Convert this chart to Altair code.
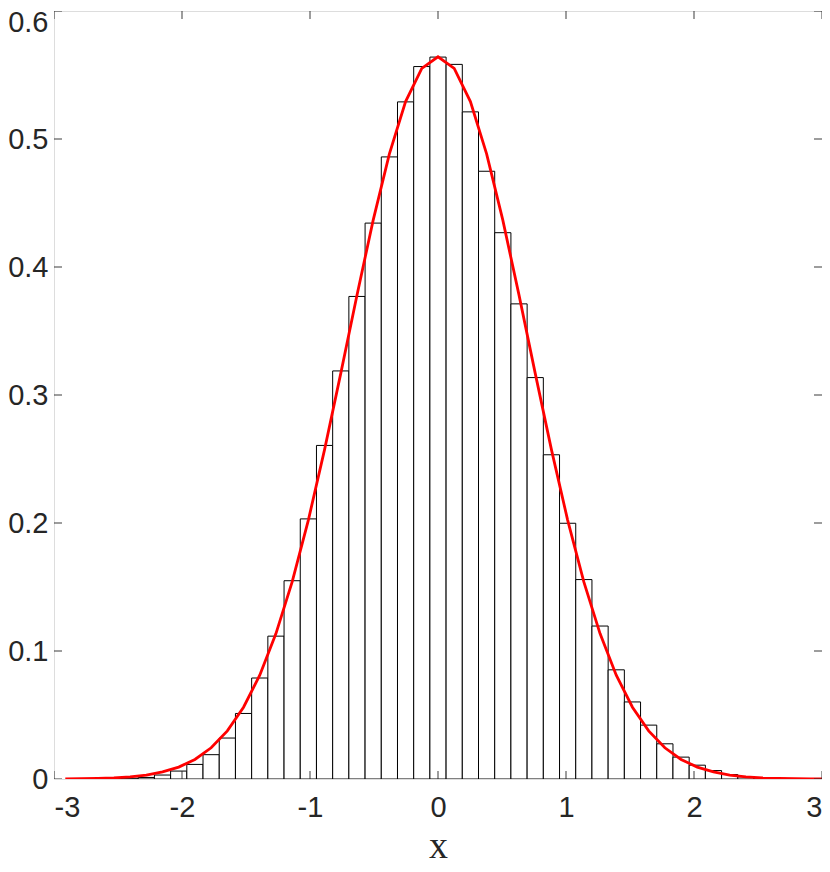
import altair as alt
import pandas as pd

# histogram bin index (bin centres = index * bin_width), normalised heights (pdf)
bin_width = 0.1266
bin_index = list(range(-22, 24))
bar_heights = [
    0.0001, 0.0002, 0.0003, 0.0006, 0.0012, 0.0031, 0.0062, 0.0114, 0.0190, 0.0320,
    0.0512, 0.0789, 0.1116, 0.1549, 0.2032, 0.2606, 0.3188, 0.3770, 0.4343, 0.4860,
    0.5290, 0.5566, 0.5640, 0.5583, 0.5212, 0.4748, 0.4268, 0.3712, 0.3136, 0.2533,
    0.1998, 0.1558, 0.1195, 0.0853, 0.0602, 0.0421, 0.0275, 0.0171, 0.0108, 0.0066,
    0.0035, 0.0017, 0.0009, 0.0005, 0.0003, 0.0001,
]

# fitted curve, sampled at bin centres
curve_index = list(range(-23, 25))
curve_values = [
    0.0001, 0.0002, 0.0005, 0.0009, 0.0017, 0.0031, 0.0055, 0.0093, 0.0153, 0.0244,
    0.0376, 0.0561, 0.0811, 0.1136, 0.1540, 0.2023, 0.2573, 0.3169, 0.3780, 0.4366,
    0.4884, 0.5292, 0.5552, 0.5642, 0.5552, 0.5292, 0.4884, 0.4366, 0.3780, 0.3169,
    0.2573, 0.2023, 0.1540, 0.1136, 0.0811, 0.0561, 0.0376, 0.0244, 0.0153, 0.0093,
    0.0055, 0.0031, 0.0017, 0.0009, 0.0005, 0.0002, 0.0001, 0.0000,
]

x_ticks = [-3, -2, -1, 0, 1, 2, 3]
y_ticks = [0, 0.1, 0.2, 0.3, 0.4, 0.5, 0.6]

bars = pd.DataFrame({
    "x0": [i * bin_width - bin_width / 2 for i in bin_index],
    "x1": [i * bin_width + bin_width / 2 for i in bin_index],
    "h": bar_heights,
})
curve = pd.DataFrame({"x": [i * bin_width for i in curve_index], "y": curve_values})
xt = pd.DataFrame({"t": x_ticks})
yt = pd.DataFrame({"t": y_ticks})

AX = "#262626"
xscale = alt.Scale(domain=[-3, 3], nice=False, zero=False)
yscale = alt.Scale(domain=[0, 0.6], nice=False)

xaxis = alt.Axis(values=x_ticks, labelExpr="datum.value + ''", domain=False, ticks=False,
                 grid=False, labelFontSize=29, labelFont="Liberation Sans", labelColor=AX,
                 labelPadding=14, title="x", titleFont="Liberation Serif", titleFontSize=38,
                 titleFontWeight="normal", titleColor=AX, titlePadding=5)
yaxis = alt.Axis(values=y_ticks, labelExpr="datum.value + ''", domain=False, ticks=False,
                 grid=False, labelFontSize=29, labelFont="Liberation Sans", labelColor=AX,
                 labelPadding=6, title=None,
                 labelOffset={"condition": {"test": "datum.value >= 0.59", "value": 11}, "value": 0})

bar_layer = alt.Chart(bars).mark_rect(fill="white", stroke="black", strokeWidth=1, clip=True).encode(
    x=alt.X("x0:Q", scale=xscale, axis=xaxis),
    x2="x1:Q",
    y=alt.Y("h:Q", scale=yscale, axis=yaxis),
    y2=alt.datum(0),
)

curve_layer = alt.Chart(curve).mark_line(color="#ff0000", strokeWidth=2.8, clip=True).encode(
    x=alt.X("x:Q", scale=xscale),
    y=alt.Y("y:Q", scale=yscale),
)

tick_style = dict(color=AX, size=16, thickness=1, clip=True, opacity=0.9)
bottom_ticks = alt.Chart(xt).mark_tick(orient="vertical", **tick_style).encode(
    x=alt.X("t:Q", scale=xscale), y=alt.datum(0, scale=yscale))
top_ticks = alt.Chart(xt).mark_tick(orient="vertical", **tick_style).encode(
    x=alt.X("t:Q", scale=xscale), y=alt.datum(0.6, scale=yscale))
left_ticks = alt.Chart(yt).mark_tick(orient="horizontal", **tick_style).encode(
    y=alt.Y("t:Q", scale=yscale), x=alt.datum(-3, scale=xscale))
right_ticks = alt.Chart(yt).mark_tick(orient="horizontal", **tick_style).encode(
    y=alt.Y("t:Q", scale=yscale), x=alt.datum(3, scale=xscale))

chart = alt.layer(bar_layer, curve_layer, bottom_ticks, top_ticks, left_ticks, right_ticks).properties(
    width=768, height=768,
    autosize=alt.AutoSizeParams(type="none"),
    padding={"left": 46, "top": 3, "right": 0, "bottom": 85},
).configure_view(stroke=AX, strokeWidth=1).configure(background="white")

chart.save("out.html", embed_options={"renderer": "svg", "actions": False})
